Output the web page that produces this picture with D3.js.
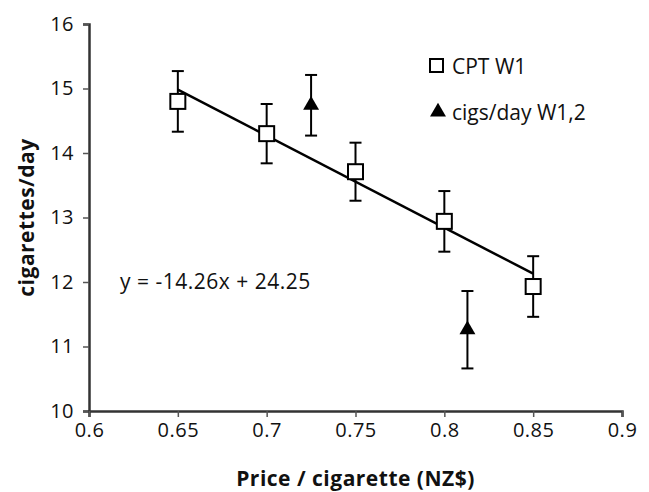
<!DOCTYPE html>
<meta charset="utf-8">
<html>
<head>
<script src="https://d3js.org/d3.v7.min.js"></script>
<style>
  body { margin: 0; background: #fff; }
  text { font-family: "Open Sans", sans-serif; fill: #111; }
</style>
</head>
<body>
<div id="viz"></div>
<script>
// CPT W1 (open squares)
const cptPrice = [0.65, 0.70, 0.75, 0.80, 0.85];
const cptValue = [14.80, 14.30, 13.71, 12.94, 11.93];
const cptErr   = [0.47, 0.46, 0.45, 0.47, 0.47];
// cigs/day W1,2 (filled triangles)
const cigPrice = [0.725, 0.813];
const cigValue = [14.74, 11.26];
const cigErr   = [0.47, 0.60];
// linear fit y = -14.26x + 24.25
const fitSlope = -14.26, fitIntercept = 24.25;
const fitRange = [0.65, 0.85];
const xTicks = [0.6, 0.65, 0.7, 0.75, 0.8, 0.85, 0.9];
const yTicks = [10, 11, 12, 13, 14, 15, 16];

const W = 649, H = 492;
const margin = {top: 24, right: 27, bottom: 81, left: 89};
const width = W - margin.left - margin.right,
      height = H - margin.top - margin.bottom;
const fs = '21px';

const svg = d3.select('#viz').append('svg')
  .attr('width', W).attr('height', H);
const g = svg.append('g')
  .attr('transform', `translate(${margin.left},${margin.top})`);

const x = d3.scaleLinear().domain([0.6, 0.9]).range([0, width]);
const y = d3.scaleLinear().domain([10, 16]).range([height, 0]);

// axes
const yAxis = g.append('g')
  .call(d3.axisLeft(y).tickValues(yTicks).tickSize(6).tickPadding(9).tickFormat(d3.format('d')));
const xAxis = g.append('g')
  .attr('transform', `translate(0,${height})`)
  .call(d3.axisBottom(x).tickValues(xTicks).tickSize(6).tickPadding(6).tickFormat(d => String(d)));
[xAxis, yAxis].forEach(a => {
  a.select('.domain').attr('stroke', '#333').attr('stroke-width', 2.5);
  a.selectAll('.tick line').attr('stroke', '#555').attr('stroke-width', 1.5);
  a.selectAll('.tick text').style('font-size', '20px').style('letter-spacing', '0.5px').attr('fill', '#111');
});

// trend line
g.append('line')
  .attr('x1', x(fitRange[0])).attr('y1', y(fitSlope * fitRange[0] + fitIntercept))
  .attr('x2', x(fitRange[1])).attr('y2', y(fitSlope * fitRange[1] + fitIntercept))
  .attr('stroke', '#000').attr('stroke-width', 2.5);

function errorBars(px, py, pe) {
  const eg = g.append('g').attr('stroke', '#000').attr('stroke-width', 2);
  px.forEach((p, i) => {
    const cx = x(p);
    eg.append('line').attr('x1', cx).attr('x2', cx)
      .attr('y1', y(py[i] + pe[i])).attr('y2', y(py[i] - pe[i]));
    [py[i] + pe[i], py[i] - pe[i]].forEach(v => {
      eg.append('line').attr('x1', cx - 6).attr('x2', cx + 6)
        .attr('y1', y(v)).attr('y2', y(v));
    });
  });
}
errorBars(cptPrice, cptValue, cptErr);
errorBars(cigPrice, cigValue, cigErr);

// squares
g.selectAll('.sq').data(cptPrice).join('rect')
  .attr('x', d => x(d) - 7.5)
  .attr('y', (d, i) => y(cptValue[i]) - 7.5)
  .attr('width', 15).attr('height', 15)
  .attr('fill', '#fff').attr('stroke', '#000').attr('stroke-width', 2);

// triangles
const tri = d3.symbol().type(d3.symbolTriangle).size(110);
g.selectAll('.tri').data(cigPrice).join('path')
  .attr('d', tri)
  .attr('transform', (d, i) => `translate(${x(d)},${y(cigValue[i])})`)
  .attr('fill', '#000');

// equation
g.append('text')
  .attr('x', x(0.6) + 31).attr('y', y(12) + 7)
  .style('font-size', fs).style('letter-spacing', '0.5px')
  .text('y = -14.26x + 24.25');

// legend
const lg = svg.append('g').attr('transform', 'translate(429,0)');
lg.append('rect').attr('x', 1).attr('y', 59).attr('width', 13).attr('height', 13)
  .attr('fill', '#fff').attr('stroke', '#000').attr('stroke-width', 2);
lg.append('text').attr('x', 23).attr('y', 74).style('font-size', fs).text('CPT W1');
lg.append('path').attr('d', tri).attr('transform', 'translate(9,112)').attr('fill', '#000');
lg.append('text').attr('x', 23).attr('y', 120).style('font-size', fs).text('cigs/day W1,2');

// axis titles
svg.append('text')
  .attr('text-anchor', 'middle')
  .attr('transform', `translate(${margin.left + width / 2},486)`)
  .style('font-size', fs).style('font-weight', 'bold').style('letter-spacing', '0.5px')
  .text('Price / cigarette (NZ$)');
svg.append('text')
  .attr('text-anchor', 'middle')
  .attr('transform', `translate(34,${margin.top + height / 2})rotate(-90)`)
  .style('font-size', fs).style('font-weight', 'bold').style('letter-spacing', '0.5px')
  .text('cigarettes/day');
</script>
</body>
</html>
